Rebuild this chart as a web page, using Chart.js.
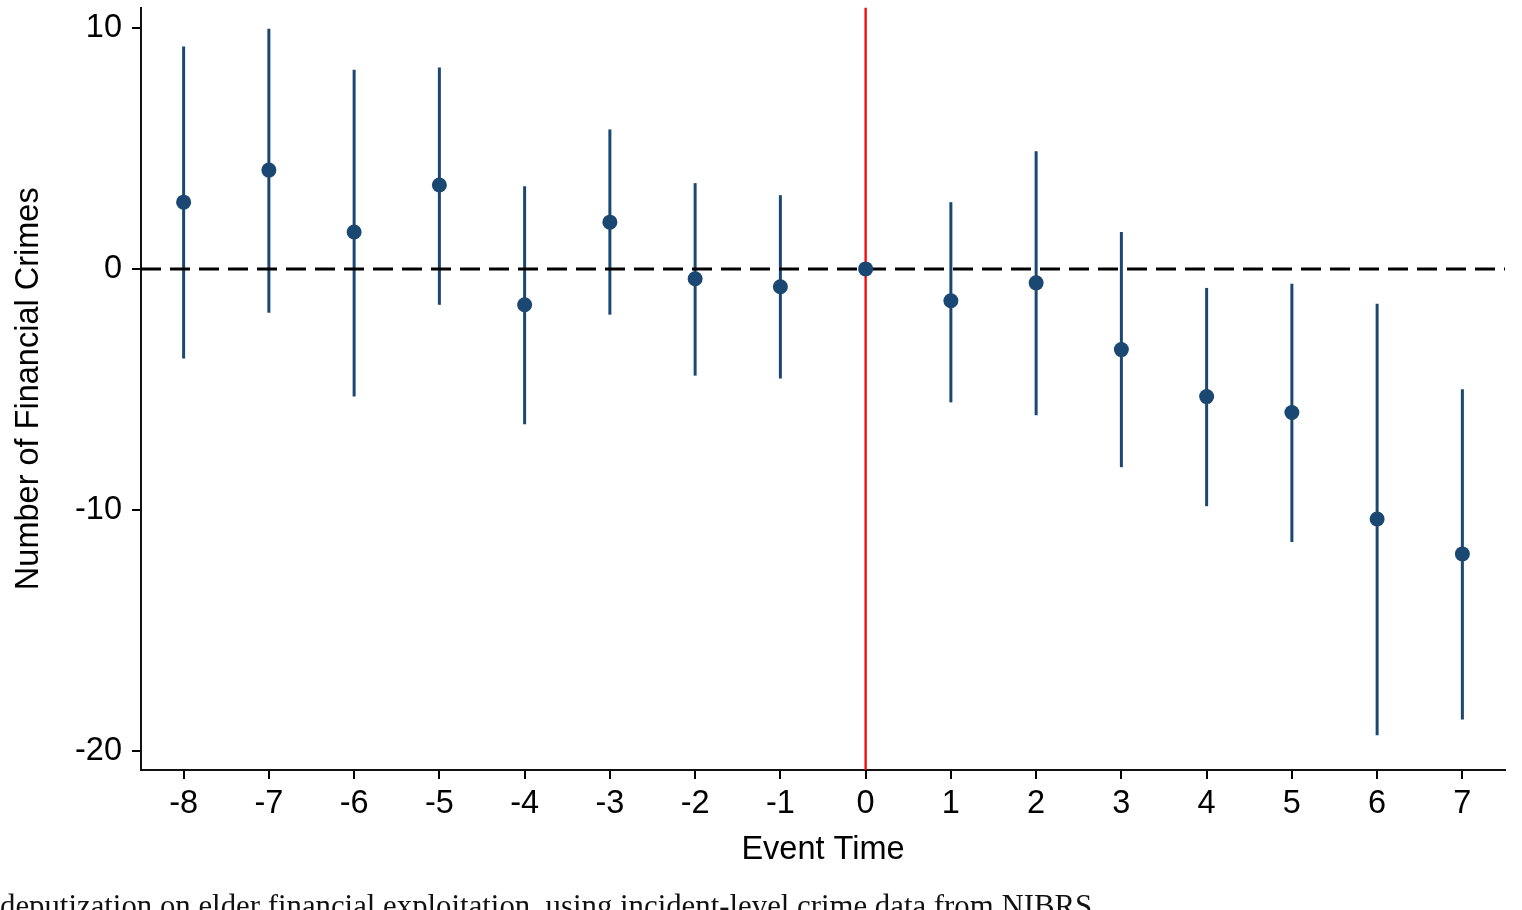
<!DOCTYPE html>
<html>
<head>
<meta charset="utf-8">
<script src="https://cdn.jsdelivr.net/npm/chart.js@4.4.0/dist/chart.umd.min.js"></script>
<style>
  html, body { margin: 0; padding: 0; background: #fff; overflow: hidden; }
  #wrap { position: relative; width: 1522px; height: 910px; overflow: hidden; }
  #caption { position: absolute; left: 0px; top: 891px; white-space: nowrap; line-height: 1;
    font-family: "Liberation Serif", "DejaVu Serif", serif; font-size: 30.8px; color: #111; }
</style>
</head>
<body>
<div id="wrap">
  <canvas id="c" width="1522" height="910"></canvas>
  <div id="caption">deputization on elder financial exploitation, using incident-level crime data from NIBRS.</div>
</div>
<script>
const eventTime = [-8, -7, -6, -5, -4, -3, -2, -1, 0, 1, 2, 3, 4, 5, 6, 7];
const estimate  = [2.77, 4.10, 1.53, 3.48, -1.49, 1.94, -0.41, -0.74, 0, -1.32, -0.58, -3.35, -5.30, -5.96, -10.38, -11.83];
const ciUpper   = [9.23, 9.97, 8.27, 8.36, 3.43, 5.79, 3.56, 3.06, 0, 2.77, 4.88, 1.53, -0.79, -0.62, -1.45, -5.00];
const ciLower   = [-3.72, -1.82, -5.30, -1.49, -6.45, -1.90, -4.43, -4.55, 0, -5.54, -6.08, -8.23, -9.85, -11.34, -19.36, -18.70];
const xTicks = [-8, -7, -6, -5, -4, -3, -2, -1, 0, 1, 2, 3, 4, 5, 6, 7];
const yTicks = [-20, -10, 0, 10];

const navy = '#1b4872';
const fontFam = 'Liberation Sans';

const errorBars = {
  id: 'errorBars',
  beforeDatasetsDraw(chart) {
    const ctx = chart.ctx, xs = chart.scales.x, ys = chart.scales.y;
    ctx.save();
    ctx.strokeStyle = navy;
    ctx.lineWidth = 3;
    for (let i = 0; i < eventTime.length; i++) {
      if (ciUpper[i] === ciLower[i]) continue;
      const px = xs.getPixelForValue(eventTime[i]);
      ctx.beginPath();
      ctx.moveTo(px, ys.getPixelForValue(ciUpper[i]));
      ctx.lineTo(px, ys.getPixelForValue(ciLower[i]));
      ctx.stroke();
    }
    ctx.restore();
  }
};

new Chart(document.getElementById('c'), {
  type: 'scatter',
  data: {
    datasets: [
      {
        label: 'zero',
        type: 'line',
        data: [{x: -8.5, y: 0}, {x: 7.5, y: 0}],
        borderColor: '#000',
        borderWidth: 3,
        borderDash: [20, 9],
        pointRadius: 0,
        order: 3
      },
      {
        label: 'event',
        type: 'line',
        data: [{x: 0, y: -20.8}, {x: 0, y: 10.85}],
        borderColor: '#ff0000',
        borderWidth: 2.3,
        pointRadius: 0,
        order: 2
      },
      {
        label: 'estimate',
        data: eventTime.map((t, i) => ({x: t, y: estimate[i]})),
        backgroundColor: navy,
        borderColor: navy,
        pointRadius: 7.5,
        borderWidth: 0,
        order: 1
      }
    ]
  },
  options: {
    responsive: false,
    animation: false,
    layout: { padding: { top: 5, right: 17, left: 0, bottom: 0 } },
    plugins: { legend: { display: false }, tooltip: { enabled: false } },
    scales: {
      x: {
        type: 'linear', min: -8.5, max: 7.5,
        afterBuildTicks: s => { s.ticks = xTicks.map(v => ({value: v})); },
        afterFit: s => { s.height = 140; s.paddingLeft = 0; s.paddingRight = 0; },
        grid: { drawOnChartArea: false, drawTicks: true, tickLength: 9, color: '#000', lineWidth: 2 },
        border: { display: true, color: '#111', width: 2 },
        ticks: { color: '#000', padding: 6, font: { family: fontFam, size: 32.5 }, maxRotation: 0, autoSkip: false },
        title: { display: true, text: 'Event Time', color: '#000', font: { family: fontFam, size: 32.5 }, padding: { top: 0, bottom: 40 } }
      },
      y: {
        type: 'linear', min: -20.8, max: 10.85,
        afterBuildTicks: s => { s.ticks = yTicks.map(v => ({value: v})); },
        afterFit: s => { s.width = 141; s.paddingTop = 0; s.paddingBottom = 0; },
        grid: { drawOnChartArea: false, drawTicks: true, tickLength: 9, color: '#000', lineWidth: 2 },
        border: { display: true, color: '#111', width: 2 },
        ticks: { color: '#000', padding: 10, font: { family: fontFam, size: 32.5 } },
        title: { display: true, text: 'Number of Financial Crimes', color: '#000', font: { family: fontFam, size: 32.5 }, padding: { top: 10, bottom: 0 } }
      }
    }
  },
  plugins: [errorBars]
});
</script>
</body>
</html>
